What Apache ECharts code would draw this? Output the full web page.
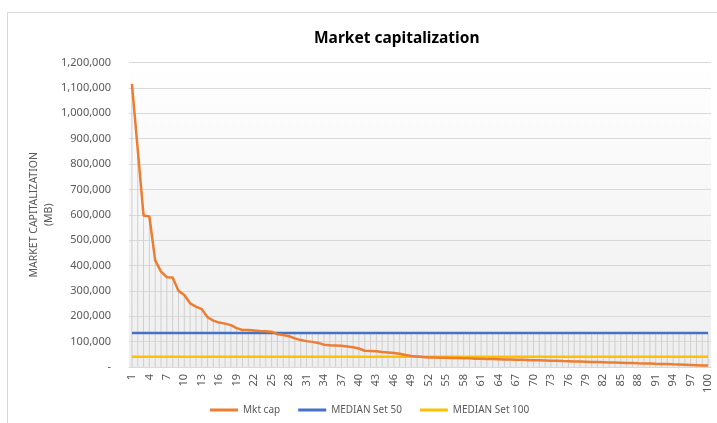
<!DOCTYPE html>
<html>
<head>
<meta charset="utf-8">
<script src="https://cdn.jsdelivr.net/npm/echarts@6/dist/echarts.min.js"></script>
<style>
  html, body { margin: 0; padding: 0; background: #fff; }
  #main { width: 717px; height: 423px; }
</style>
</head>
<body>
<div id="main"></div>
<script>
// categories 1..100 (company rank)
const ranks = ['1','2','3','4','5','6','7','8','9','10','11','12','13','14','15','16','17','18','19','20',
  '21','22','23','24','25','26','27','28','29','30','31','32','33','34','35','36','37','38','39','40',
  '41','42','43','44','45','46','47','48','49','50','51','52','53','54','55','56','57','58','59','60',
  '61','62','63','64','65','66','67','68','69','70','71','72','73','74','75','76','77','78','79','80',
  '81','82','83','84','85','86','87','88','89','90','91','92','93','94','95','96','97','98','99','100'];

// market cap (MB)
const mktCap = [1116000, 858000, 597000, 593000, 420000, 376000, 354000, 353000, 300000, 284000,
  251000, 238000, 228000, 196000, 183000, 175000, 171000, 165000, 153000, 146000,
  146000, 144000, 142000, 141000, 139000, 129000, 126000, 121000, 113000, 106000,
  102000, 99000, 95000, 88000, 86000, 85000, 84000, 81000, 78000, 73000,
  64000, 63000, 62000, 59000, 57000, 55000, 52000, 47000, 43000, 41000,
  39000, 37500, 37000, 36500, 36000, 35500, 35000, 34500, 34000, 33000,
  32500, 32000, 31500, 31000, 30000, 29500, 29000, 28500, 28000, 27000,
  26500, 26000, 25000, 24500, 23500, 23000, 22000, 21500, 21000, 20000,
  19500, 19000, 18000, 17500, 17000, 16000, 15500, 14500, 14000, 13500,
  12500, 12000, 11500, 10500, 10000, 9000, 8000, 7000, 6000, 5500];

const median50 = 134000;
const median100 = 40000;

const median50Line = ranks.map(() => median50);
const median100Line = ranks.map(() => median100);
// excel-style drop lines: from the highest point of each category to the axis
const dropLines = ranks.map((r, i) => Math.max(mktCap[i], median50, median100));

const chart = echarts.init(document.getElementById('main'));

const option = {
  animation: false,
  textStyle: { fontFamily: 'Noto Sans' },
  title: {
    text: 'Market capitalization',
    left: 309,
    top: 26,
    textStyle: { fontSize: 15.5, fontWeight: 'bold', color: '#000', fontFamily: 'Noto Sans' }
  },
  graphic: [
    {
      type: 'rect',
      shape: { x: 7.5, y: 12.5, width: 740, height: 440 },
      style: { fill: null, stroke: '#d9d9d9', lineWidth: 1 },
      silent: true
    }
  ],
  legend: {
    data: ['Mkt cap', 'MEDIAN Set 50', 'MEDIAN Set 100'],
    left: 205,
    top: 400,
    icon: 'rect',
    itemWidth: 28,
    itemHeight: 3,
    itemGap: 18,
    textStyle: { fontSize: 10, color: '#595959' }
  },
  grid: {
    left: 129,
    right: 6,
    top: 62.5,
    bottom: 56,
    show: true,
    borderWidth: 0,
    backgroundColor: new echarts.graphic.LinearGradient(0, 0, 0, 1, [
      { offset: 0, color: '#ffffff' },
      { offset: 1, color: '#eeeeee' }
    ])
  },
  xAxis: {
    type: 'category',
    data: ranks,
    boundaryGap: true,
    axisLine: { lineStyle: { color: '#d9d9d9' } },
    axisTick: { show: false },
    axisLabel: {
      interval: 2,
      rotate: 90,
      fontSize: 11,
      color: '#595959',
      margin: 7
    }
  },
  yAxis: {
    type: 'value',
    min: 0,
    max: 1200000,
    interval: 100000,
    name: 'MARKET CAPITALIZATION\n(MB)',
    nameLocation: 'middle',
    nameGap: 72,
    nameMoveOverlap: false,
    nameTextStyle: { fontSize: 10.5, color: '#595959', lineHeight: 15 },
    axisLine: { show: false },
    axisTick: { show: false },
    axisLabel: {
      fontSize: 11,
      color: '#595959',
      margin: 18,
      formatter: v => v === 0 ? '-' : v.toLocaleString('en-US')
    },
    splitLine: { lineStyle: { color: '#d9d9d9', width: 1 } }
  },
  series: [
    {
      name: 'drop',
      type: 'bar',
      data: dropLines,
      barWidth: 1,
      itemStyle: { color: '#cfcfcf' },
      silent: true,
      z: 1
    },
    {
      name: 'Mkt cap',
      type: 'line',
      data: mktCap,
      symbol: 'none',
      lineStyle: { color: '#ED7D31', width: 2.5 },
      itemStyle: { color: '#ED7D31' },
      z: 4
    },
    {
      name: 'MEDIAN Set 50',
      type: 'line',
      data: median50Line,
      symbol: 'none',
      lineStyle: { color: '#4472C4', width: 2.5 },
      itemStyle: { color: '#4472C4' },
      z: 3
    },
    {
      name: 'MEDIAN Set 100',
      type: 'line',
      data: median100Line,
      symbol: 'none',
      lineStyle: { color: '#FFC000', width: 2.5 },
      itemStyle: { color: '#FFC000' },
      z: 3
    }
  ]
};

chart.setOption(option);
</script>
</body>
</html>
